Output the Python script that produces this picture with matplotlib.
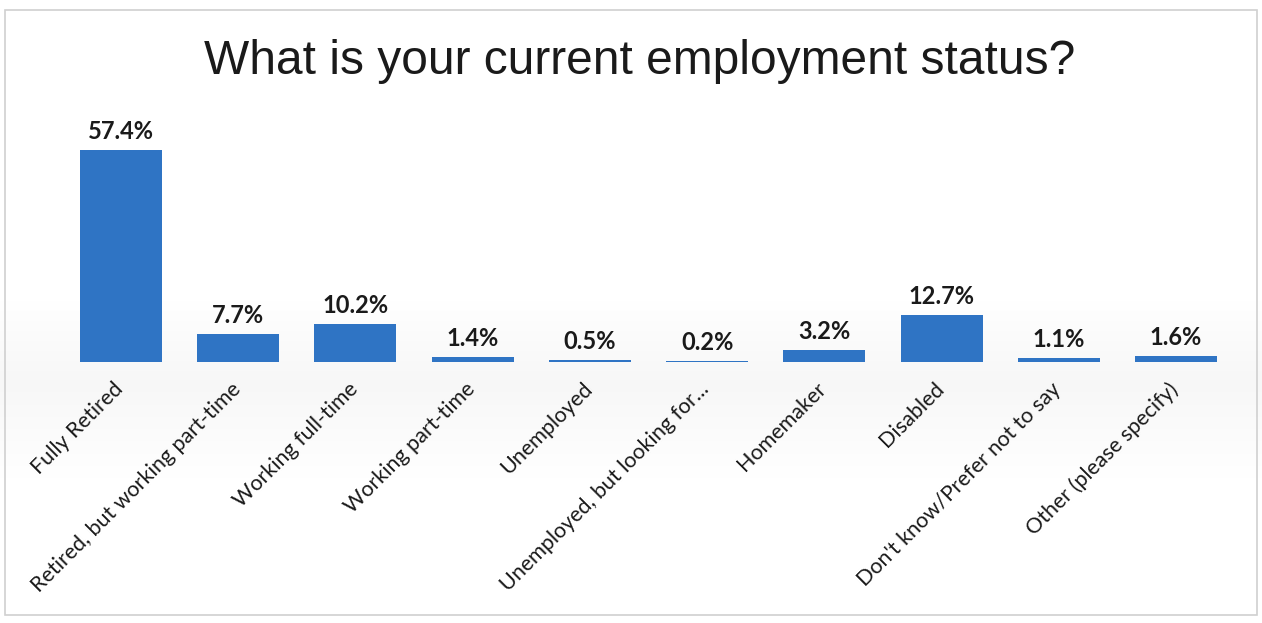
import matplotlib.pyplot as plt
import matplotlib.transforms as mtransforms
import numpy as np
from matplotlib.patches import Rectangle

# Dados
categorias = ["Fully Retired", "Retired, but working part-time", "Working full-time",
              "Working part-time", "Unemployed", "Unemployed, but looking for...",
              "Homemaker", "Disabled", "Don't know/Prefer not to say", "Other (please specify)"]
valores = [57.4, 7.7, 10.2, 1.4, 0.5, 0.2, 3.2, 12.7, 1.1, 1.6]
rotulos = ["57.4%", "7.7%", "10.2%", "1.4%", "0.5%", "0.2%", "3.2%", "12.7%", "1.1%", "1.6%"]

cor = "#2f74c4"

fig = plt.figure(figsize=(12.62, 6.23), dpi=100)
W, H = 1262, 623

# faixa cinza suave do scan (fundo)
yy = np.arange(H)
perfil = 1 - 0.035 * np.clip(np.minimum((yy - 290) / 90, (490 - yy) / 110), 0, 1)
fundo = fig.add_axes([0, 0, 1, 1], zorder=-10)
fundo.imshow(np.tile(perfil[:, None], (1, 10)), cmap="gray", vmin=0, vmax=1,
             aspect="auto", extent=[0, 1, 0, 1])
fundo.axis("off")

# eixo posicionado em pixels: base y=362, topo y=110
ax = fig.add_axes([62.4 / W, 1 - 362 / H, (1234.6 - 62.4) / W, (362 - 110) / H])
ax.patch.set_alpha(0)

x = range(len(categorias))
ax.bar(x, valores, width=0.70, color=cor)
ax.set_xlim(-0.5, len(categorias) - 0.5)
ax.set_ylim(0, 252 / 3.69)

# rótulos de valor
for xi, v, r in zip(x, valores, rotulos):
    ax.annotate(r, (xi, v), xytext=(0, 5), textcoords="offset points",
                ha="center", va="bottom", fontsize=17, fontweight="bold",
                family="Lato", color="#1a1a1a")

ax.set_xticks(list(x))
ax.set_xticklabels(categorias, rotation=45, ha="right", rotation_mode="anchor",
                   fontsize=15.5, family="Lato", color="#1a1a1a")
ax.tick_params(axis="x", length=0, pad=12)
desloc = mtransforms.ScaledTranslation(-8 / 100, 0, fig.dpi_scale_trans)
for lab in ax.get_xticklabels():
    lab.set_transform(lab.get_transform() + desloc)

ax.set_yticks([])
for s in ax.spines.values():
    s.set_visible(False)

fig.text(640 / W, 1 - 62 / H, "What is your current employment status?",
         ha="center", va="center", fontsize=34.5, family="Liberation Sans", color="#1a1a1a")

# moldura clara do gráfico
fig.patches.append(Rectangle((5 / W, 8 / H), 1252 / W, 1 - 18 / H, transform=fig.transFigure,
                             fill=False, edgecolor="#d0d0d0", linewidth=1.2))

fig.savefig("out.png", dpi=100)
